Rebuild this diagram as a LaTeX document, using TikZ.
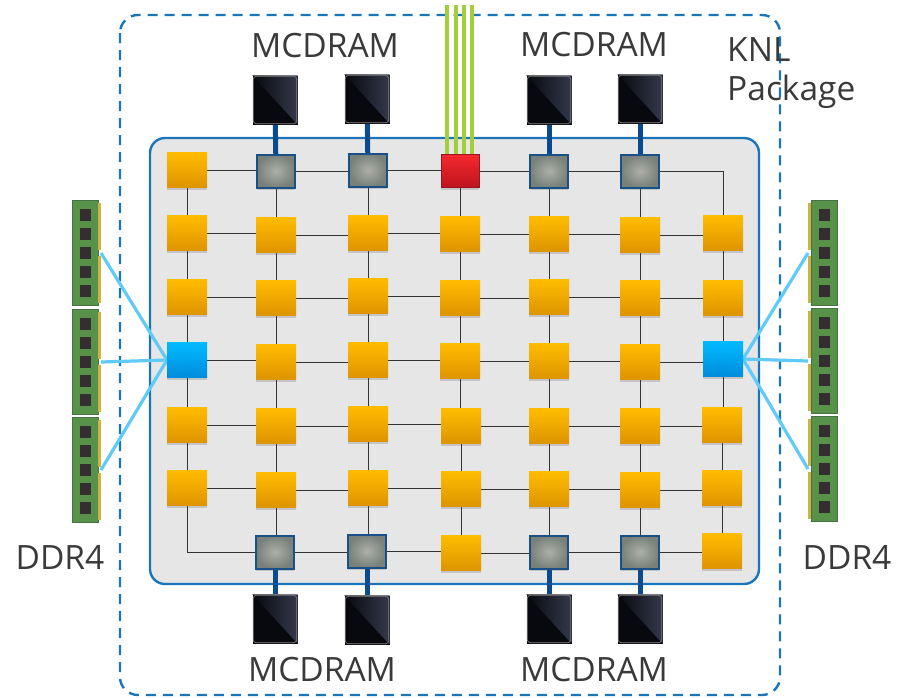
\documentclass[tikz,border=0pt]{standalone}
\usepackage{fontspec}
\setmainfont{Open Sans}
\usetikzlibrary{shadows,backgrounds,calc,positioning}
\definecolor{pkgblue}{HTML}{1B75BB}
\definecolor{panelfill}{HTML}{E6E6E6}
\definecolor{linkblue}{HTML}{0B4A8C}
\definecolor{ddrlink}{HTML}{5FCBF6}
\definecolor{lime}{HTML}{A4CE39}
\definecolor{textdark}{HTML}{3A3A3A}
\definecolor{orangetop}{RGB}{255,188,0}
\definecolor{orangebot}{RGB}{222,148,0}
\definecolor{bluetop}{RGB}{0,186,255}
\definecolor{bluebot}{RGB}{0,140,220}
\definecolor{mcborder}{RGB}{25,80,135}
\definecolor{mcin}{RGB}{172,176,168}
\definecolor{mcout}{RGB}{120,128,122}
\definecolor{redborder}{RGB}{150,20,35}
\definecolor{redtop}{RGB}{245,40,45}
\definecolor{redbot}{RGB}{190,20,30}
\definecolor{chipblack}{RGB}{8,9,14}
\definecolor{chiplight}{RGB}{52,56,74}
\definecolor{dimmgreen}{RGB}{88,145,72}
\definecolor{dimmedge}{RGB}{70,115,65}
\definecolor{dimmgold}{RGB}{205,178,70}
\definecolor{dimmchip}{RGB}{52,46,50}
\tikzset{
  x=1pt,y=-1pt,
  softshadow/.style={drop shadow={shadow xshift=0pt,shadow yshift=-2pt,opacity=.22,fill=black!70}},
  tile/.style={minimum width=40pt,minimum height=35pt,inner sep=0pt,outer sep=0pt,softshadow},
  core/.style={tile,top color=orangetop,bottom color=orangebot},
  ddrc/.style={tile,top color=bluetop,bottom color=bluebot},
  mcc/.style={tile,minimum width=38pt,minimum height=33pt,draw=mcborder,line width=2pt,
     inner color=mcin,outer color=mcout},
  iio/.style={tile,minimum width=38pt,minimum height=33pt,draw=redborder,line width=1pt,
     top color=redtop,bottom color=redbot},
  chipbox/.style={minimum width=45pt,minimum height=49pt,inner sep=0pt,fill=chipblack},
  dimmbox/.style={minimum width=26pt,minimum height=105pt,inner sep=0pt,outer sep=0pt,fill=dimmgreen,draw=dimmedge,line width=.6pt},
  wire/.style={draw=black!80,line width=.9pt},
  memlink/.style={draw=linkblue,line width=5pt},
  ddrlinkst/.style={draw=ddrlink,line width=3.2pt},
  iolink/.style={draw=lime,line width=3.6pt},
  lbl/.style={text=textdark,font=\fontsize{33.5}{38}\selectfont,inner sep=0pt},
}
\newcommand{\chipdeco}[1]{%
  \shade[left color=chipblack,right color=chiplight] (#1.north west) -- (#1.north east) -- (#1.south east) -- cycle;
  \draw[white!50!black,line width=.7pt,rounded corners=3pt] ($(#1.north west)+(1,1)$) rectangle ($(#1.south east)+(-1,-1)$);
}
\newcommand{\dimmdeco}[2]{% name, side (+1 gold on right, -1 on left)
  \foreach \i in {-2,...,2}{\fill[dimmchip] ($(#1.center)+(0,\i*19)+(-5.5,-6)$) rectangle ++(11,12);}
  \fill[dimmgold] ($(#1.center)+(#2*14.5,-50)+(-1.5,0)$) rectangle ++(3,47);
  \fill[dimmgold] ($(#1.center)+(#2*14.5,3)+(-1.5,0)$) rectangle ++(3,47);
}
\begin{document}
\begin{tikzpicture}
\useasboundingbox (0,0) rectangle (907,697);
% tiles
\foreach \n/\x/\y in {1-1/187/170,
 2-1/187/233,2-2/276/235,2-3/368/233,2-4/460/234,2-5/549/234,2-6/640/235,2-7/723/233,
 3-1/187/297,3-2/276/298,3-3/368/296,3-4/460/298,3-5/549/297,3-6/640/298,3-7/723/298,
 4-2/276/362,4-3/368/360,4-4/460/361,4-5/549/361,4-6/640/362,
 5-1/187/425,5-2/276/426,5-3/368/424,5-4/461/426,5-5/549/426,5-6/640/426,5-7/722/425,
 6-1/187/488,6-2/276/490,6-3/368/488,6-4/461/489,6-5/549/489,6-6/640/490,6-7/722/488,
 7-4/461/553,7-7/722/551}
  \node[core] (n-\n) at (\x,\y) {};
\foreach \n/\x/\y in {4-1/187/360,4-7/723/359}
  \node[ddrc] (n-\n) at (\x,\y) {};
\foreach \n/\x/\y in {1-2/276/171,1-3/368/170,1-5/549/171,1-6/640/171,
 7-2/275/552,7-3/367/551,7-5/549/552,7-6/640/552}
  \node[mcc] (n-\n) at (\x,\y) {};
\node[iio] (n-1-4) at (460,171) {};
% MCDRAM chips
\foreach \n/\x/\y in {t2/275/100,t3/367/99,t5/549/100,t6/640/99,
 b2/275/619,b3/367/620,b5/549/619,b6/640/619}{
  \node[chipbox] (chip-\n) at (\x,\y) {};
  \chipdeco{chip-\n}
}
% DIMMs
\foreach \n/\x/\y in {l1/85/253,l2/85/362,l3/85/470}{
  \node[dimmbox] (\n) at (\x,\y) {};
  \dimmdeco{\n}{1}
}
\foreach \n/\x/\y in {r1/824/253,r2/824/361,r3/824/469}{
  \node[dimmbox] (\n) at (\x,\y) {};
  \dimmdeco{\n}{-1}
}
% free ends and corners
\coordinate (cornerTR) at (723,171);
\coordinate (cornerBL) at (187,552);
\foreach \i/\x in {1/447,2/456,3/464,4/472}\coordinate (io\i) at (\x,5);
% labels
\node[lbl] (m1) at (325,46) {MCDRAM};
\node[lbl] (m2) at (594,45) {MCDRAM};
\node[lbl] (m3) at (322,670) {MCDRAM};
\node[lbl] (m4) at (594,670) {MCDRAM};
\node[lbl,anchor=west] (k1) at (727,50) {KNL};
\node[lbl,anchor=west] (k2) at (727,92) {Package};
\node[lbl] (d1) at (60,557) {DDR4};
\node[lbl] (d2) at (847,557) {DDR4};
\begin{pgfonlayer}{background}
  \draw[pkgblue,line width=2.4pt,dash pattern=on 10pt off 7pt,rounded corners=18pt] (120,15) rectangle (780,695);
  \draw[pkgblue,line width=2.4pt,fill=panelfill,rounded corners=15pt] (150,138) rectangle (759,584);
  % horizontal mesh
  \foreach \rr in {2,3,4,5,6}{
    \foreach \cc/\dd in {1/2,2/3,3/4,4/5,5/6,6/7}{
      \draw[wire] (n-\rr-\cc.center) -- (n-\rr-\cc.center -| n-\rr-\dd.center);
    }
  }
  \foreach \cc/\dd in {1/2,2/3,3/4,4/5,5/6}{\draw[wire] (n-1-\cc.center) -- (n-1-\cc.center -| n-1-\dd.center);}
  \foreach \cc/\dd in {2/3,3/4,4/5,5/6,6/7}{\draw[wire] (n-7-\cc.center) -- (n-7-\cc.center -| n-7-\dd.center);}
  % vertical mesh
  \foreach \cc in {1,2,3,4,5,6,7}{
    \foreach \rr/\ss in {2/3,3/4,4/5,5/6}{
      \draw[wire] (n-\rr-\cc.center) -- (n-\rr-\cc.center |- n-\ss-\cc.center);
    }
  }
  \foreach \cc in {1,...,6}{\draw[wire] (n-1-\cc.center) -- (n-1-\cc.center |- n-2-\cc.center);}
  \foreach \cc in {2,...,7}{\draw[wire] (n-6-\cc.center) -- (n-6-\cc.center |- n-7-\cc.center);}
  \draw[wire] (n-1-6.center) -- (cornerTR) -- (n-2-7.center);
  \draw[wire] (n-6-1.center) -- (cornerBL) -- (n-7-2.center);
  % memory links
  \foreach \cc in {2,3,5,6}{
    \draw[memlink] (chip-t\cc) -- (n-1-\cc);
    \draw[memlink] (chip-b\cc) -- (n-7-\cc);
  }
  % IO links
  \foreach \i in {1,...,4}{\draw[iolink] (io\i) -- (io\i |- n-1-4.north);}
  % DDR links
  \foreach \d in {l1,l2,l3}{\draw[ddrlinkst] ($(\d.east)+(3,0)$) -- (n-4-1.west);}
  \foreach \d in {r1,r2,r3}{\draw[ddrlinkst] ($(\d.west)+(-3,0)$) -- (n-4-7.east);}
\end{pgfonlayer}
\end{tikzpicture}
\end{document}
